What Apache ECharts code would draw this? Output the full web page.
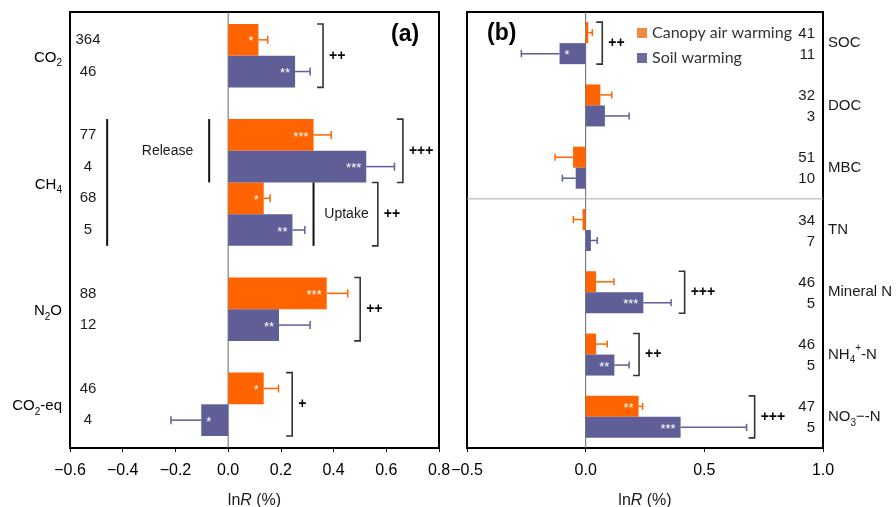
<!DOCTYPE html>
<html><head><meta charset="utf-8">
<script src="https://cdn.jsdelivr.net/npm/echarts@6/dist/echarts.min.js"></script>
<style>html,body{margin:0;padding:0;background:#fff}#c{width:896px;height:507px}</style>
</head><body><div id="c"></div>
<script>
// ================= DATA =================
// Panel (a): one slot per bar (gaps are empty slots)
const aSlots = ['CO2 canopy','CO2 soil','gap1','CH4 rel canopy','CH4 rel soil','CH4 upt canopy','CH4 upt soil','gap2','N2O canopy','N2O soil','gap3','CO2-eq canopy','CO2-eq soil'];
const aN = ['364','46','','77','4','68','5','','88','12','','46','4'];
const aCanopy    = [0.115, null, null, 0.324, null, 0.135, null, null, 0.374, null, null, 0.135, null];
const aCanopyErr = [0.150, null, null, 0.391, null, 0.159, null, null, 0.454, null, null, 0.191, null];
const aCanopySig = ['*', '', '', '***', '', '*', '', '', '***', '', '', '*', ''];
const aSoil      = [null, 0.254, null, null, 0.524, null, 0.244, null, null, 0.193, null, null, -0.102];
const aSoilErr   = [null, 0.311, null, null, 0.631, null, 0.291, null, null, 0.311, null, null, -0.217];
const aSoilSig   = ['', '**', '', '', '***', '', '**', '', '', '**', '', '', '*'];
const aGroups    = ['CO2', 'CH4', 'N2O', 'CO2-eq'];
const aGroupAt   = [1, 5, 9, 12];            // slot boundary where group label sits
const aBrackets  = [[0.360, 0, 1], [0.663, 3, 4], [0.568, 5, 6], [0.501, 8, 9], [0.243, 11, 12]];
const aBracketSig = ['++', '+++', '++', '++', '+'];
const aLines     = [[-0.459, 3, 6], [-0.072, 3, 4], [0.324, 5, 6]];
const aNotes     = [[-0.23, 4], [0.449, 6]];
const aNoteText  = ['Release', 'Uptake'];
const aTicks = { min: -0.6, max: 0.8, interval: 0.2 };

// Panel (b)
const bCats = ['SOC', 'DOC', 'MBC', 'TN', 'Mineral N', 'NH4+-N', 'NO3\u2212-N'];
const bCanopy    = [0.011, 0.062, -0.053, -0.013, 0.044, 0.044, 0.223];
const bCanopyErr = [0.028, 0.110, -0.129, -0.052, 0.119, 0.091, 0.240];
const bCanopySig = ['', '', '', '', '', '', '**'];
const bCanopyN   = ['41', '32', '51', '34', '46', '46', '47'];
const bSoil      = [-0.110, 0.081, -0.042, 0.022, 0.243, 0.121, 0.400];
const bSoilErr   = [-0.271, 0.183, -0.098, 0.049, 0.360, 0.183, 0.678];
const bSoilSig   = ['*', '', '', '', '***', '**', '***'];
const bSoilN     = ['11', '3', '10', '7', '5', '5', '5'];
const bBrackets  = [[0.070, 0], [0.417, 4], [0.225, 5], [0.712, 6]];
const bBracketSig = ['++', '+++', '++', '+++'];
const bDivider = 3;   // line drawn above this category
const bTicks = { min: -0.5, max: 1.0, interval: 0.5 };

const seriesNames = ['Canopy air warming', 'Soil warming'];

// ================= STYLE =================
const FONT = 'Liberation Sans';
const C_CAN = '#ff6400', C_SOIL = '#5f5e96';
const L_CAN = '#ef8a45', L_SOIL = '#6c6b9e';
const TXT = '#1a1a1a';
const B_BAR = 21;

const richStyles = {
  m: { fontSize: 15, lineHeight: 22, color: TXT, fontFamily: FONT },
  s: { fontSize: 10, lineHeight: 10, verticalAlign: 'bottom', color: TXT, fontFamily: FONT },
  p: { fontSize: 10, lineHeight: 10, verticalAlign: 'top', color: TXT, fontFamily: FONT }
};
function richLabel(s) {
  let out = s.replace(/(\d)/g, '}{s|$1}{m|');
  out = out.replace(/\{m\|\+/g, '{p|+}{m|');
  return '{m|' + out + '}';
}
const fmtTick = v => (v < -1e-9 ? '\u2212' : '') + Math.abs(v).toFixed(1);

function barData(vals) {
  return vals.map(v => v == null ? '-' : { value: v, label: { position: v < 0 ? 'insideLeft' : 'insideRight' } });
}
function barLabel(sig) {
  return { show: true, formatter: p => sig[p.dataIndex] || '', color: '#fff', fontSize: 13, fontFamily: FONT, distance: 5, offset: [0, 2] };
}
function errData(vals, errs) {
  const out = [];
  vals.forEach((v, i) => { if (v != null) out.push([v, errs[i], i]); });
  return out;
}
function errRender(color, dyFactor, cap) {
  return function (params, api) {
    const p0 = api.coord([api.value(0), api.value(2)]);
    const p1 = api.coord([api.value(1), api.value(2)]);
    const y = p0[1] + dyFactor * B_BAR / 2;
    return { type: 'group', children: [
      { type: 'line', shape: { x1: p0[0], y1: y, x2: p1[0], y2: y }, style: { stroke: color, lineWidth: 1.5 } },
      { type: 'line', shape: { x1: p1[0], y1: y - cap, x2: p1[0], y2: y + cap }, style: { stroke: color, lineWidth: 1.5 } }
    ] };
  };
}
function bracketShape(x, top, bot, sig) {
  return { type: 'group', children: [
    { type: 'polyline', shape: { points: [[x - 6, top], [x, top], [x, bot], [x - 6, bot]] }, style: { stroke: '#333', lineWidth: 1.6, fill: null } },
    { type: 'text', style: { text: sig, x: x + 6, y: (top + bot) / 2, textAlign: 'left', textVerticalAlign: 'middle', align: 'left', verticalAlign: 'middle', font: 'bold 14px "' + FONT + '"', fill: '#000' } }
  ] };
}
const axisX = (idx, t) => ({
  type: 'value', gridIndex: idx, min: t.min, max: t.max, interval: t.interval,
  axisLine: { show: false }, splitLine: { show: false },
  axisTick: { show: true, length: 4, lineStyle: { color: '#000', width: 1 } },
  axisLabel: { fontSize: 16, color: '#000', fontFamily: FONT, margin: 15, formatter: fmtTick },
  name: '{a|ln}{b|R}{a| (%)}', nameLocation: 'middle', nameGap: 45,
  nameTextStyle: { rich: { a: { fontSize: 16, color: TXT, fontFamily: FONT }, b: { fontSize: 16, color: TXT, fontFamily: FONT, fontStyle: 'italic' } } }
});

const option = {
  animation: false,
  backgroundColor: '#fff',
  textStyle: { fontFamily: FONT },
  title: [
    { text: '(a)', left: 386, top: 18, textStyle: { fontSize: 23, fontWeight: 'bold', color: '#000', fontFamily: FONT } },
    { text: '(b)', left: 482, top: 17, textStyle: { fontSize: 23, fontWeight: 'bold', color: '#000', fontFamily: FONT } }
  ],
  legend: {
    orient: 'vertical', left: 632, top: 19, itemWidth: 10, itemHeight: 10, itemGap: 7, icon: 'rect', selectedMode: false,
    textStyle: { fontFamily: 'Lato', fontSize: 16, color: '#333', lineHeight: 18 },
    data: [{ name: seriesNames[0], itemStyle: { color: L_CAN } }, { name: seriesNames[1], itemStyle: { color: L_SOIL } }]
  },
  grid: [
    { left: 70, right: 457, top: 24, bottom: 71, show: false, containLabel: false, outerBoundsMode: 'none' },
    { left: 70, right: 457, top: 12, bottom: 59, show: true, borderColor: '#000', borderWidth: 2, backgroundColor: 'transparent', containLabel: false, outerBoundsMode: 'none' },
    { left: 467, right: 73, top: 12, bottom: 59, show: true, borderColor: '#000', borderWidth: 2, backgroundColor: 'transparent', containLabel: false, outerBoundsMode: 'none' }
  ],
  xAxis: [
    { type: 'value', gridIndex: 0, min: aTicks.min, max: aTicks.max, show: false },
    axisX(1, aTicks),
    axisX(2, bTicks)
  ],
  yAxis: [
    { type: 'category', gridIndex: 0, data: aSlots, inverse: true, axisLine: { show: false }, axisTick: { show: false },
      axisLabel: { interval: 0, formatter: (v, i) => aN[i], align: 'center', margin: -18, fontSize: 15, color: TXT, fontFamily: FONT } },
    { type: 'value', gridIndex: 1, min: 0, max: 1, show: false },
    { type: 'category', gridIndex: 2, data: bCats, inverse: true, position: 'right', axisLine: { show: false }, axisTick: { show: false },
      axisLabel: { interval: 0, margin: 5, formatter: v => richLabel(v), rich: richStyles } }
  ],
  series: [
    // ---------- panel (a) ----------
    { name: seriesNames[0], type: 'bar', xAxisIndex: 0, yAxisIndex: 0, data: barData(aCanopy), barWidth: '100%', barGap: '-100%',
      itemStyle: { color: C_CAN }, label: barLabel(aCanopySig), z: 3 },
    { name: seriesNames[1], type: 'bar', xAxisIndex: 0, yAxisIndex: 0, data: barData(aSoil), barWidth: '100%', barGap: '-100%',
      itemStyle: { color: C_SOIL }, label: barLabel(aSoilSig), z: 3 },
    { type: 'custom', xAxisIndex: 0, yAxisIndex: 0, data: errData(aCanopy, aCanopyErr), encode: { x: [0, 1], y: 2 },
      renderItem: errRender(C_CAN, 0, 4), z: 4 },
    { type: 'custom', xAxisIndex: 0, yAxisIndex: 0, data: errData(aSoil, aSoilErr), encode: { x: [0, 1], y: 2 },
      renderItem: errRender(C_SOIL, 0, 4), z: 4 },
    { type: 'custom', xAxisIndex: 0, yAxisIndex: 0, data: aBrackets, encode: { x: 0, y: [1, 2] }, z: 4,
      renderItem: (params, api) => {
        const h = api.size([0, 1])[1];
        const p1 = api.coord([api.value(0), api.value(1)]);
        const p2 = api.coord([api.value(0), api.value(2)]);
        return bracketShape(p1[0], p1[1] - h / 2, p2[1] + h / 2, aBracketSig[params.dataIndex]);
      } },
    { type: 'custom', xAxisIndex: 0, yAxisIndex: 0, data: aLines, encode: { x: 0, y: [1, 2] }, z: 4,
      renderItem: (params, api) => {
        const h = api.size([0, 1])[1];
        const p1 = api.coord([api.value(0), api.value(1)]);
        const p2 = api.coord([api.value(0), api.value(2)]);
        return { type: 'line', shape: { x1: p1[0], y1: p1[1] - h / 2, x2: p1[0], y2: p2[1] + h / 2 }, style: { stroke: '#111', lineWidth: 2 } };
      } },
    { type: 'custom', xAxisIndex: 0, yAxisIndex: 0, data: aNotes, encode: { x: 0, y: 1 }, z: 4,
      renderItem: (params, api) => {
        const h = api.size([0, 1])[1];
        const p = api.coord([api.value(0), api.value(1)]);
        return { type: 'text', style: { text: aNoteText[params.dataIndex], x: p[0], y: p[1] - h / 2, textAlign: 'center', textVerticalAlign: 'middle', align: 'center', verticalAlign: 'middle', font: '14px "' + FONT + '"', fill: TXT } };
      } },
    { type: 'custom', xAxisIndex: 0, yAxisIndex: 0, data: aGroupAt.map(k => [0, k]), encode: { x: 0, y: 1 }, z: 4,
      renderItem: (params, api) => {
        const h = api.size([0, 1])[1];
        const p = api.coord([api.value(0), api.value(1)]);
        return { type: 'text', style: { text: richLabel(aGroups[params.dataIndex]), rich: richStyles, x: params.coordSys.x - 8, y: p[1] - h / 2 + 2,
          textAlign: 'right', textVerticalAlign: 'middle', align: 'right', verticalAlign: 'middle' } };
      } },
    { type: 'custom', xAxisIndex: 1, yAxisIndex: 1, data: [[0, 0]], z: 1,
      renderItem: (params, api) => {
        const p1 = api.coord([0, 0]), p2 = api.coord([0, 1]);
        return { type: 'line', shape: { x1: p1[0], y1: p1[1], x2: p2[0], y2: p2[1] }, style: { stroke: '#666', lineWidth: 1 } };
      } },
    // ---------- panel (b) ----------
    { name: seriesNames[0], type: 'bar', xAxisIndex: 2, yAxisIndex: 2, data: barData(bCanopy), barWidth: B_BAR, barGap: '0%',
      itemStyle: { color: C_CAN }, label: barLabel(bCanopySig), z: 3 },
    { name: seriesNames[1], type: 'bar', xAxisIndex: 2, yAxisIndex: 2, data: barData(bSoil), barWidth: B_BAR, barGap: '0%',
      itemStyle: { color: C_SOIL }, label: barLabel(bSoilSig), z: 3 },
    { type: 'custom', xAxisIndex: 2, yAxisIndex: 2, data: errData(bCanopy, bCanopyErr), encode: { x: [0, 1], y: 2 },
      renderItem: errRender(C_CAN, -1, 3.5), z: 4 },
    { type: 'custom', xAxisIndex: 2, yAxisIndex: 2, data: errData(bSoil, bSoilErr), encode: { x: [0, 1], y: 2 },
      renderItem: errRender(C_SOIL, 1, 3.5), z: 4 },
    { type: 'custom', xAxisIndex: 2, yAxisIndex: 2, data: bBrackets, encode: { x: 0, y: 1 }, z: 4,
      renderItem: (params, api) => {
        const p = api.coord([api.value(0), api.value(1)]);
        return bracketShape(p[0], p[1] - B_BAR, p[1] + B_BAR, bBracketSig[params.dataIndex]);
      } },
    { type: 'custom', xAxisIndex: 2, yAxisIndex: 2, data: bCats.map((c, i) => [0, i]), encode: { x: 0, y: 1 }, z: 4,
      renderItem: (params, api) => {
        const p = api.coord([api.value(0), api.value(1)]);
        const x = params.coordSys.x + params.coordSys.width - 8;
        const i = params.dataIndex;
        const st = (t, y) => ({ type: 'text', style: { text: t, x: x, y: y + 1, textAlign: 'right', textVerticalAlign: 'middle', align: 'right', verticalAlign: 'middle', font: '15px "' + FONT + '"', fill: TXT } });
        return { type: 'group', children: [st(bCanopyN[i], p[1] - B_BAR / 2), st(bSoilN[i], p[1] + B_BAR / 2)] };
      } },
    { type: 'custom', xAxisIndex: 2, yAxisIndex: 2, data: [[0, bDivider]], encode: { x: 0, y: 1 }, z: 1,
      renderItem: (params, api) => {
        const cs = params.coordSys;
        const h = api.size([0, 1])[1];
        const p = api.coord([api.value(0), api.value(1)]);
        return { type: 'group', children: [
          { type: 'line', shape: { x1: p[0], y1: cs.y, x2: p[0], y2: cs.y + cs.height }, style: { stroke: '#666', lineWidth: 1 } },
          { type: 'line', shape: { x1: cs.x, y1: p[1] - h / 2, x2: cs.x + cs.width, y2: p[1] - h / 2 }, style: { stroke: '#aaa', lineWidth: 1 } }
        ] };
      } }
  ]
};
const chart = echarts.init(document.getElementById('c'), null, { renderer: 'canvas' });
chart.setOption(option);
</script></body></html>
